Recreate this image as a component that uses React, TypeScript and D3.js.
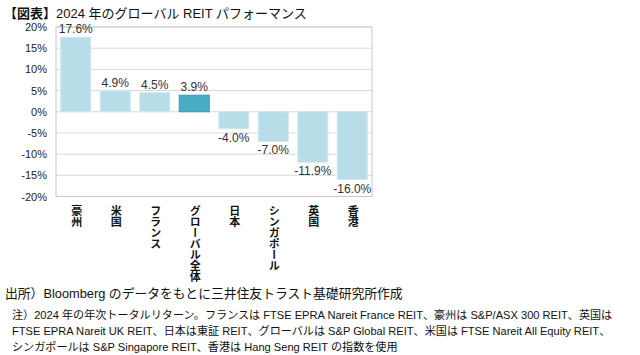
import React from "react";
import * as d3 from "d3";

const categories = ["豪州", "米国", "フランス", "グローバル全体", "日本", "シンガポール", "英国", "香港"];
const values = [17.6, 4.9, 4.5, 3.9, -4.0, -7.0, -11.9, -16.0];
const highlight = "グローバル全体";
const yTicks = [20, 15, 10, 5, 0, -5, -10, -15, -20];
const title = "2024 年のグローバル REIT パフォーマンス";
const source = "出所）Bloomberg のデータをもとに三井住友トラスト基礎研究所作成";
const notes = [
  "注）2024 年の年次トータルリターン。フランスは FTSE EPRA Nareit France REIT、豪州は S&P/ASX 300 REIT、英国は",
  "FTSE EPRA Nareit UK REIT、日本は東証 REIT、グローバルは S&P Global REIT、米国は FTSE Nareit All Equity REIT、",
  "シンガポールは S&P Singapore REIT、香港は Hang Seng REIT の指数を使用",
];

const FONT = "'Liberation Sans', Arial, 'Noto Sans CJK JP', sans-serif";

export default function App() {
  const W = 640, H = 355;
  const left = 56, right = 372, top = 27, bottom = 196.5;
  const x = d3.scaleBand<string>().domain(categories).range([left, right]).paddingInner(0.24).paddingOuter(0.12);
  const y = d3.scaleLinear().domain([-20, 20]).range([bottom, top]);
  const fmt = (v: number) => v.toFixed(1) + "%";
  return (
    <svg width={W} height={H} style={{ position: "absolute", left: 0, top: 0, background: "#fff" }} fontFamily={FONT}>
      <text x={4} y={18} fontSize={13} fill="#111">
        <tspan fontWeight="bold">【図表】</tspan>
        <tspan>{title}</tspan>
      </text>
      {yTicks.map((t) => (
        <g key={t}>
          <line x1={left} x2={right} y1={y(t)} y2={y(t)} stroke="#d9d9d9" strokeWidth={1} />
          <text x={47} y={y(t) + 4} fontSize={11} textAnchor="end" fill="#222">{t + "%"}</text>
        </g>
      ))}
      <rect x={left} y={top} width={right - left} height={bottom - top} fill="none" stroke="#c8c8c8" strokeWidth={1} />
      {categories.map((c, i) => {
        const v = values[i];
        const bx = x(c)!;
        const bw = x.bandwidth();
        const y0 = y(Math.max(0, v));
        const h = Math.abs(y(v) - y(0));
        const hl = c === highlight;
        return (
          <g key={c}>
            <rect x={bx} y={y0} width={bw} height={h} fill={hl ? "#4bacc6" : "#b7dde8"} stroke={hl ? "#3a9ab5" : "#cfe9f0"} strokeWidth={1} />
            <text x={bx + bw / 2} y={v >= 0 ? y(v) - 4 : y(v) + 13} fontSize={12} textAnchor="middle" fill="#333">{fmt(v)}</text>
            <text x={bx + bw / 2 + 1} y={205} fontSize={11} fontWeight="bold" fill="#111" style={{ writingMode: "vertical-rl" as any }} fontFamily="'Noto Sans CJK JP', sans-serif">{c}</text>
          </g>
        );
      })}
      <text x={5} y={298} fontSize={12.8} fill="#111">{source}</text>
      {notes.map((n, i) => (
        <text key={i} x={12} y={319 + i * 16} fontSize={11.1} fill="#111">{n}</text>
      ))}
    </svg>
  );
}
